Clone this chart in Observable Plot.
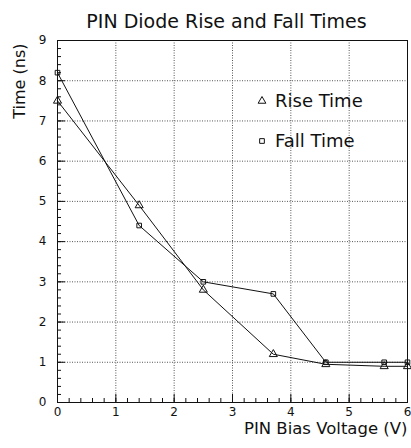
<!DOCTYPE html>
<html>
<head>
<meta charset="utf-8">
<script src="https://cdn.jsdelivr.net/npm/d3@7"></script>
<script src="https://cdn.jsdelivr.net/npm/@observablehq/plot@0.6"></script>
<style>
  html, body { margin: 0; padding: 0; background: #fff; }
</style>
</head>
<body>
<div id="chart"></div>
<script>
// PIN bias voltage (V) and measured times (ns)
const voltage  = [0, 1.4, 2.5, 3.7, 4.6, 5.6, 6];
const riseTime = [7.5, 4.9, 2.8, 1.2, 0.95, 0.9, 0.9];
const fallTime = [8.2, 4.4, 3.0, 2.7, 1.0, 1.0, 1.0];

const xTicks = [0, 1, 2, 3, 4, 5, 6];
const yTicks = [0, 1, 2, 3, 4, 5, 6, 7, 8, 9];
const xMinor = d3.range(0, 30).map(i => i / 5);
const yMinor = d3.range(0, 45).map(i => i / 5);

const legendItems = ["Rise Time", "Fall Time"];
const legendSymbols = ["triangle", "square"];

const W = 411, H = 448;
const mL = 57, mR = 4, mT = 40, mB = 46;
const plotW = W - mL - mR, plotH = H - mT - mB;

const rise = voltage.map((v, i) => ({v, t: riseTime[i]}));
const fall = voltage.map((v, i) => ({v, t: fallTime[i]}));

const font = "DejaVu Sans";
const ink = "#111";

const chart = Plot.plot({
  width: W,
  height: H,
  marginLeft: mL,
  marginRight: mR,
  marginTop: mT,
  marginBottom: mB,
  x: {domain: [0, 6]},
  y: {domain: [0, 9]},
  style: {fontFamily: font, fontSize: "12px", color: ink, background: "#fff"},
  marks: [
    // dotted grid
    Plot.ruleX(xTicks.slice(1, -1), {stroke: "#555", strokeWidth: 1, strokeDasharray: "1,1.5"}),
    Plot.ruleY(yTicks.slice(1, -1), {stroke: "#555", strokeWidth: 1, strokeDasharray: "1,1.5"}),
    // inward tick marks
    Plot.ruleX(xMinor, {stroke: ink, insetTop: plotH - 4}),
    Plot.ruleX(xTicks, {stroke: ink, insetTop: plotH - 8}),
    Plot.ruleY(yMinor, {stroke: ink, insetRight: plotW - 4}),
    Plot.ruleY(yTicks, {stroke: ink, insetRight: plotW - 8}),
    Plot.frame({stroke: ink}),
    // tick labels
    Plot.axisX(xTicks, {tickSize: 0, tickPadding: 5, label: null, fontSize: 12}),
    Plot.axisY(yTicks, {tickSize: 0, tickPadding: 11, label: null, fontSize: 12}),
    // series
    Plot.line(rise, {x: "v", y: "t", stroke: ink, strokeWidth: 1}),
    Plot.line(fall, {x: "v", y: "t", stroke: ink, strokeWidth: 1}),
    Plot.dot(rise, {x: "v", y: "t", symbol: "triangle", r: 3, stroke: ink, fill: "none", strokeWidth: 1}),
    Plot.dot(fall, {x: "v", y: "t", symbol: "square", r: 2.6, stroke: ink, fill: "none", strokeWidth: 1}),
    // title and axis labels
    Plot.text(["PIN Diode Rise and Fall Times"], {frameAnchor: "top", dx: -6, dy: -26, fontSize: 19, fill: ink, letterSpacing: "0.6px"}),
    Plot.text(["Time (ns)"], {frameAnchor: "top-left", dx: -44, dy: 3, rotate: -90, textAnchor: "end", fontSize: 16, fill: ink}),
    Plot.text(["PIN Bias Voltage (V)"], {frameAnchor: "bottom-right", dy: 31, textAnchor: "end", fontSize: 16.5, fill: ink})
  ]
});

// Legend: symbol + label rows in the upper-right of the plot area
const legendRows = legendItems.map((label, i) => ({label, symbol: legendSymbols[i], row: i}));
const g = d3.select(chart).append("g")
  .attr("font-family", font)
  .attr("text-anchor", "start");
legendRows.forEach(d => {
  const y = mT + 61 + d.row * 40;
  const sym = d3.symbol(d.symbol === "triangle" ? d3.symbolTriangle : d3.symbolSquare, d.symbol === "triangle" ? 26 : 22);
  g.append("path").attr("d", sym()).attr("transform", `translate(${mL + 205},${y})`)
    .attr("fill", "none").attr("stroke", ink);
  g.append("text").attr("x", mL + 218).attr("y", y).attr("dy", "0.35em")
    .attr("font-size", 18).attr("fill", ink).text(d.label);
});

document.getElementById("chart").append(chart);
</script>
</body>
</html>
